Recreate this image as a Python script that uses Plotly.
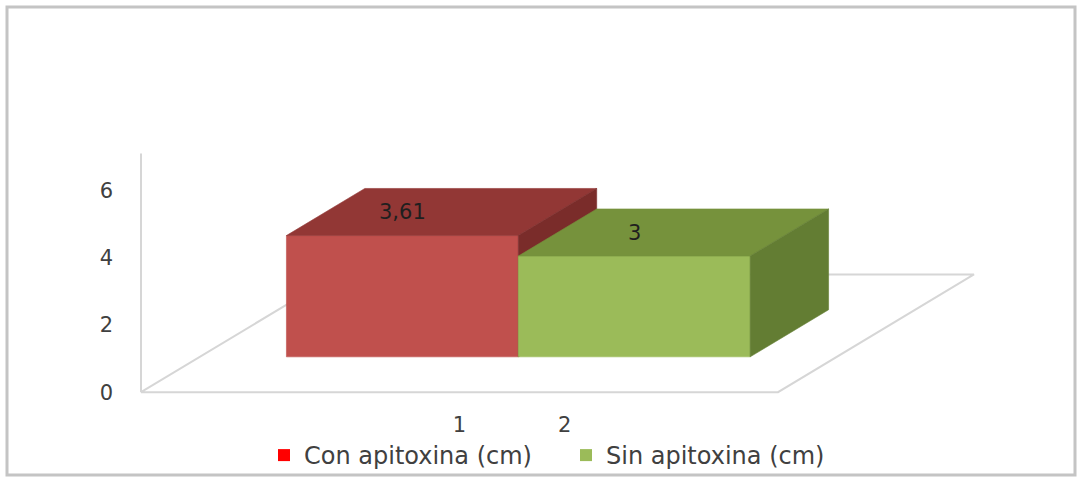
import plotly.graph_objects as go

# ---- data ----
series_names = ["Con apitoxina (cm)", "Sin apitoxina (cm)"]
series_values = [3.61, 3.0]
value_labels = ["3,61", "3"]
y_ticks = [0, 2, 4, 6]
category_labels = ["1", "2"]

# ---- styles ----
front_colors = ["#C0504D", "#9BBB59"]
top_colors = ["#923735", "#76923C"]
side_colors = ["#7A2C2A", "#637D33"]
legend_colors = ["#FF0000", "#9BBB59"]
floor_color = "#D6D6D6"
text_color = "#404040"
FONT = "DejaVu Sans"

# ---- geometry of the oblique 3D projection ----
W, H = 1077, 478
ORIGIN_PX = (141, 393)          # front-left floor corner
FLOOR_W_PX = 637                # width of the floor's front edge
PX_PER_VALUE = 33.67            # vertical pixels per value unit
DEPTH_PX = (196, -118)          # screen offset of the full floor depth
AXIS_TOP = 7.1                  # top of the vertical axis line (value units)
GAP = 0.136                     # outer gap on each side, fraction of floor width
D0, D1 = 0.30, 0.70             # bar depth span, fraction of floor depth
CAT_TICK_POS = [0.5, 0.665]     # category tick positions along the floor

du = DEPTH_PX[0] / FLOOR_W_PX
dv = -DEPTH_PX[1] / PX_PER_VALUE
x_range = [-ORIGIN_PX[0] / FLOOR_W_PX, (W - ORIGIN_PX[0]) / FLOOR_W_PX]
y_range = [-(H - ORIGIN_PX[1]) / PX_PER_VALUE, ORIGIN_PX[1] / PX_PER_VALUE]


def project(u, v, d):
    """Map (floor position, value, depth fraction) to plot coordinates."""
    return u + d * du, v + d * dv


def polygon(points):
    xs, ys = zip(*[project(*p) for p in points])
    return list(xs) + [xs[0]], list(ys) + [ys[0]]


fig = go.Figure()

# floor outline
fx, fy = polygon([(0, 0, 0), (1, 0, 0), (1, 0, 1), (0, 0, 1)])
fig.add_trace(go.Scatter(x=fx, y=fy, mode="lines",
                         line=dict(color=floor_color, width=2),
                         hoverinfo="skip", showlegend=False))

# vertical axis line
ax_x, ax_y = zip(project(0, 0, 0), project(0, AXIS_TOP, 0))
fig.add_trace(go.Scatter(x=list(ax_x), y=list(ax_y), mode="lines",
                         line=dict(color=floor_color, width=2),
                         hoverinfo="skip", showlegend=False))

# 3D bars
n = len(series_values)
bar_w = (1 - 2 * GAP) / n
annotations = []
for i, h in enumerate(series_values):
    a = GAP + i * bar_w
    b = a + bar_w
    faces = [
        ([(a, 0, D0), (b, 0, D0), (b, h, D0), (a, h, D0)], front_colors[i]),
        ([(a, h, D0), (b, h, D0), (b, h, D1), (a, h, D1)], top_colors[i]),
        ([(b, 0, D0), (b, 0, D1), (b, h, D1), (b, h, D0)], side_colors[i]),
    ]
    for pts, col in faces:
        px, py = polygon(pts)
        fig.add_trace(go.Scatter(x=px, y=py, mode="lines", fill="toself",
                                 fillcolor=col, line=dict(color=col, width=0.6),
                                 hoverinfo="skip", showlegend=False))
    lx, _ = project((a + b) / 2, h, D0)
    _, ly = project((a + b) / 2, h, (D0 + D1) / 2)
    annotations.append(dict(x=lx, y=ly, text=value_labels[i], showarrow=False,
                            font=dict(family=FONT, size=21, color="#1F1F1F")))

# legend entries
for name, col in zip(series_names, legend_colors):
    fig.add_trace(go.Scatter(x=[None], y=[None], mode="markers", name=name,
                             marker=dict(symbol="square", size=12, color=col)))

fig.update_layout(
    width=W, height=H,
    margin=dict(l=0, r=0, t=0, b=0),
    paper_bgcolor="white", plot_bgcolor="white",
    font=dict(family=FONT, color=text_color),
    showlegend=True,
    legend=dict(orientation="h", x=264 / W, xanchor="left",
                y=1 - 456 / H, yanchor="middle",
                bgcolor="rgba(0,0,0,0)",
                font=dict(family=FONT, size=24, color=text_color),
                entrywidth=257, itemclick=False),
    xaxis=dict(range=x_range, showgrid=False, zeroline=False, showline=False,
               ticks="", tickvals=CAT_TICK_POS, ticktext=category_labels,
               anchor="free", position=1 - ORIGIN_PX[1] / H,
               ticklabelstandoff=18, tickfont=dict(size=21, color=text_color)),
    yaxis=dict(range=y_range, showgrid=False, zeroline=False, showline=False,
               ticks="", tickvals=y_ticks,
               anchor="free", position=ORIGIN_PX[0] / W,
               ticklabelstandoff=28, tickfont=dict(size=21, color=text_color)),
    annotations=annotations,
    shapes=[dict(type="rect", xref="paper", yref="paper",
                 x0=7 / W, x1=1075 / W, y0=1 - 476 / H, y1=1 - 7 / H,
                 line=dict(color="#C4C4C4", width=3), fillcolor="rgba(0,0,0,0)",
                 layer="above")],
)

fig.write_html("out.html")
